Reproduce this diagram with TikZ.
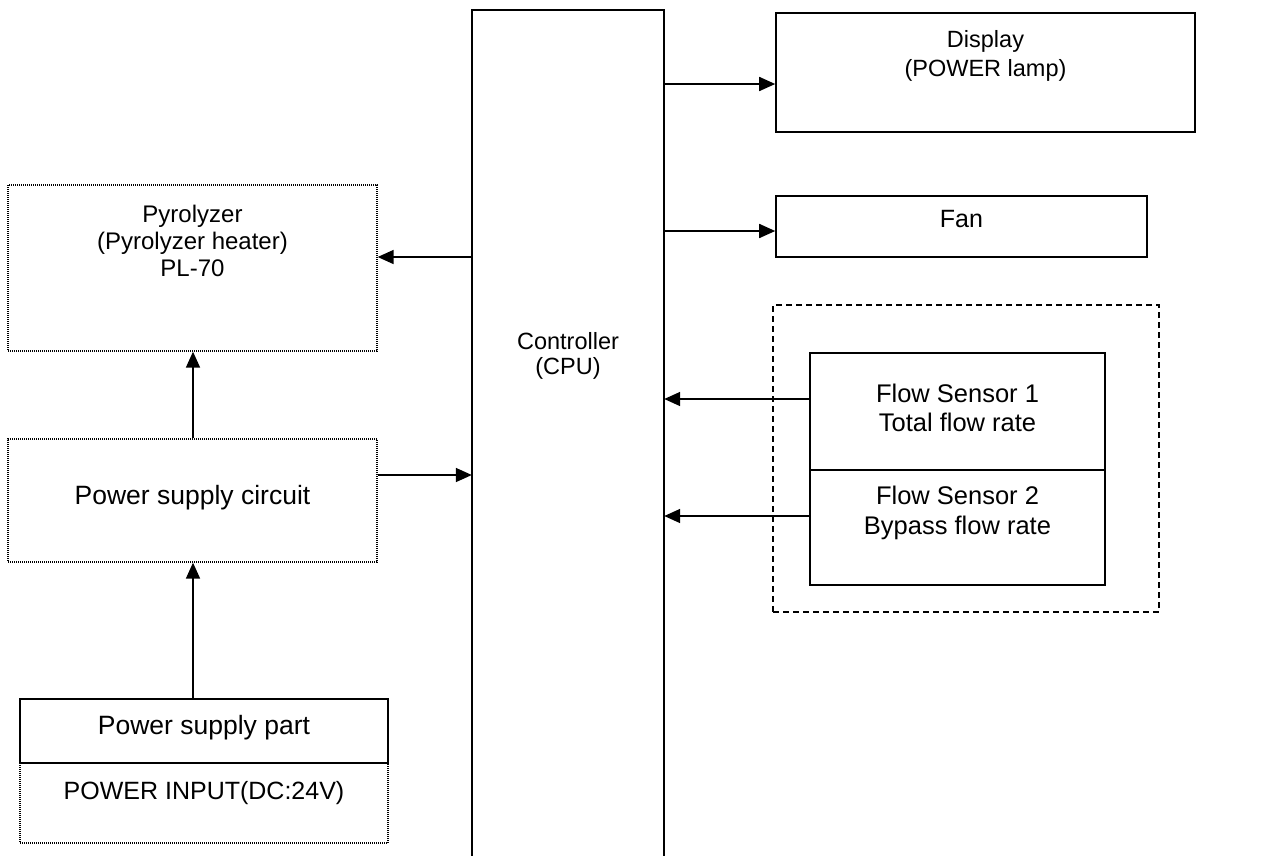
\documentclass[tikz,border=0pt]{standalone}
\usepackage{fontspec}
\setmainfont{Liberation Sans}
\usetikzlibrary{arrows.meta,calc}
\begin{document}
\begin{tikzpicture}[x=1pt,y=-1pt,
  solidbox/.style={draw,line width=1.6pt,rectangle,inner sep=0pt},
  dotbox/.style={draw,line width=1.3pt,dash pattern=on 1pt off 1pt,rectangle,inner sep=0pt},
  dashbox/.style={draw,line width=1.4pt,dash pattern=on 6pt off 4pt,rectangle,inner sep=0pt},
  txt/.style={inner sep=0pt,align=center},
  arr/.style={line width=1.7pt,-{Triangle[length=16pt,width=14pt]}}]
\useasboundingbox (0,0) rectangle (1279,855);
% boxes
\node[rectangle,inner sep=0pt,minimum width=192pt,minimum height=850pt] (ctl) at (568,435) {};
\draw[line width=1.7pt] (ctl.south west) |- (ctl.north east) -- (ctl.south east);
\node[txt,font=\fontsize{23.5}{25}\selectfont] (ctltxt) at (568,355.5) {Controller\\(CPU)};

\node[solidbox,minimum width=419pt,minimum height=119pt] (disp) at (985.5,72.5) {};
\node[txt,font=\fontsize{23.5}{29}\selectfont] (disptxt) at (985.5,56) {Display\\(POWER lamp)};

\node[solidbox,minimum width=371pt,minimum height=61pt] (fan) at (961.5,226.5) {};
\node[txt,font=\fontsize{25}{29}\selectfont] (fantxt) at (961.5,219) {Fan};

\node[dotbox,minimum width=369pt,minimum height=166pt] (pyro) at (192.5,268) {};
\node[txt,font=\fontsize{24}{27}\selectfont] (pyrotxt) at (192.5,241) {Pyrolyzer\\(Pyrolyzer heater)\\PL-70};

\node[dotbox,minimum width=369pt,minimum height=123pt] (psc) at (192.5,500.5) {};
\node[txt,font=\fontsize{26.5}{30}\selectfont] (psctxt) at (192.5,498) {Power supply circuit};

\node[dotbox,minimum width=368pt,minimum height=80pt] (inp) at (204,803) {};
\node[txt,font=\fontsize{25}{29}\selectfont] (inptxt) at (204,793) {POWER INPUT(DC:24V)};
\node[solidbox,fill=white,minimum width=368pt,minimum height=64pt] (part) at (204,731) {};
\node[txt,font=\fontsize{26.5}{30}\selectfont] (parttxt) at (204,728) {Power supply part};

\node[dashbox,minimum width=386pt,minimum height=307pt] (grp) at (966,458.5) {};
\node[solidbox,minimum width=295pt,minimum height=117pt] (fs1) at (957.5,411.5) {};
\node[solidbox,minimum width=295pt,minimum height=115pt] (fs2) at (957.5,527.5) {};
\node[txt,font=\fontsize{25.5}{29.5}\selectfont] (fs1txt) at (957.5,408) {Flow Sensor 1\\Total flow rate};
\node[txt,font=\fontsize{25.5}{29.5}\selectfont] (fs2txt) at (957.5,513) {Flow Sensor 2\\Bypass flow rate};

% connector positions
\coordinate (yd) at (0,84);
\coordinate (yf) at (0,231);
\coordinate (yp) at (0,257);
\coordinate (ys) at (0,475);
\coordinate (y1) at (0,399);
\coordinate (y2) at (0,516);
\coordinate (xa) at (193,0);

\draw[arr] (ctl.east |- yd) -- (disp.west |- yd);
\draw[arr] (ctl.east |- yf) -- (fan.west |- yf);
\draw[arr] (ctl.west |- yp) -- (pyro.east |- yp);
\draw[arr] (psc.east |- ys) -- (ctl.west |- ys);
\draw[arr] (fs1.west |- y1) -- (ctl.east |- y1);
\draw[arr] (fs2.west |- y2) -- (ctl.east |- y2);
\draw[arr] (xa |- psc.north) -- (xa |- pyro.south);
\draw[arr] (xa |- part.north) -- (xa |- psc.south);
\end{tikzpicture}
\end{document}
